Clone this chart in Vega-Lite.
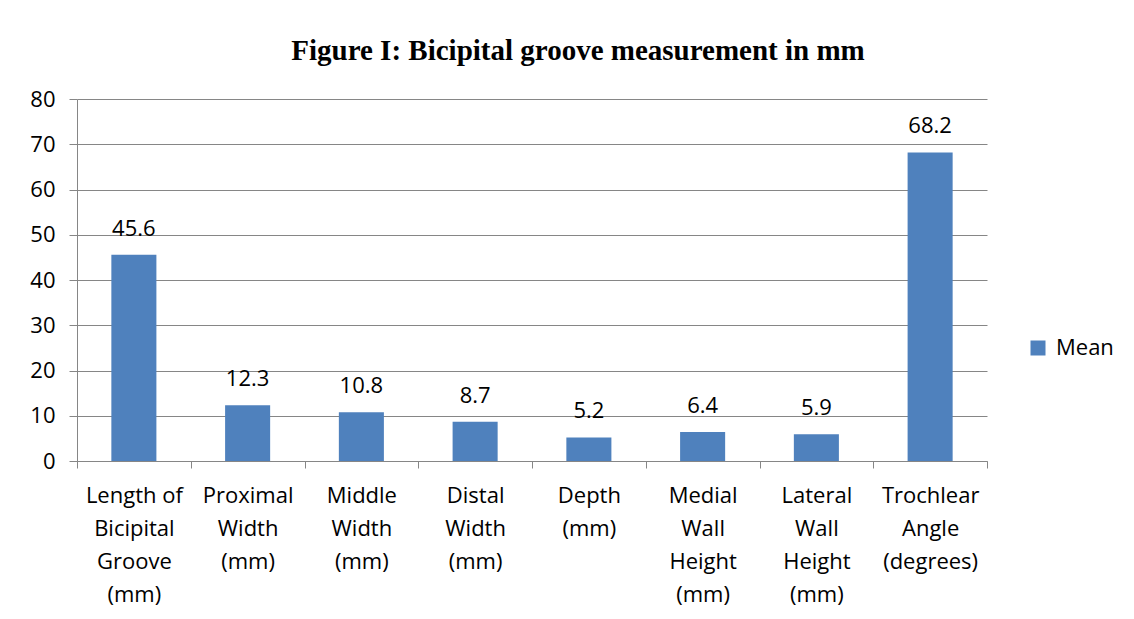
{
  "$schema": "https://vega.github.io/schema/vega-lite/v6.json",
  "autosize": "none",
  "width": 910,
  "height": 362,
  "padding": {"left": 77, "top": 99, "right": 147, "bottom": 158},
  "background": "white",
  "title": {
    "text": "Figure I: Bicipital groove measurement in mm",
    "font": "Liberation Serif",
    "fontSize": 29,
    "fontWeight": "bold",
    "color": "#000000",
    "anchor": "middle",
    "frame": "group",
    "dx": 46,
    "offset": 22
  },
  "data": {
    "values": [
      {"measure": "Length of Bicipital Groove (mm)", "mean": 45.6},
      {"measure": "Proximal Width (mm)", "mean": 12.3},
      {"measure": "Middle Width (mm)", "mean": 10.8},
      {"measure": "Distal Width (mm)", "mean": 8.7},
      {"measure": "Depth (mm)", "mean": 5.2},
      {"measure": "Medial Wall Height (mm)", "mean": 6.4},
      {"measure": "Lateral Wall Height (mm)", "mean": 5.9},
      {"measure": "Trochlear Angle (degrees)", "mean": 68.2}
    ]
  },
  "encoding": {
    "x": {
      "field": "measure",
      "type": "nominal",
      "sort": null,
      "scale": {"paddingInner": 0, "paddingOuter": 0},
      "axis": {
        "title": null,
        "labelAngle": 0,
        "labelFont": "Open Sans",
        "labelFontSize": 22,
        "labelColor": "#000000",
        "labelLineHeight": 33,
        "labelPadding": 17,
        "labelBaseline": "top",
        "labelExpr": "!isValid(datum.value) ? '' : datum.value == 'Length of Bicipital Groove (mm)' ? ['Length of', 'Bicipital', 'Groove', '(mm)'] : split(datum.value, ' ')",
        "tickBand": "extent",
        "tickSize": 7,
        "tickColor": "#868686",
        "domainColor": "#868686",
        "grid": false
      }
    },
    "y": {
      "field": "mean",
      "type": "quantitative",
      "scale": {"domain": [0, 80], "nice": false},
      "axis": {
        "title": null,
        "values": [0, 10, 20, 30, 40, 50, 60, 70, 80],
        "labelFont": "Open Sans",
        "labelFontSize": 22,
        "labelColor": "#000000",
        "labelPadding": 14,
        "tickSize": 8,
        "tickColor": "#868686",
        "domainColor": "#868686",
        "gridColor": "#868686",
        "grid": true
      }
    }
  },
  "layer": [
    {
      "mark": {"type": "bar", "width": {"band": 0.396}},
      "encoding": {
        "color": {
          "datum": "Mean",
          "type": "nominal",
          "scale": {"range": ["#4F81BD"]},
          "legend": {
            "title": null,
            "orient": "none",
            "legendX": 950,
            "legendY": 238,
            "symbolType": "square",
            "symbolSize": 225,
            "symbolStrokeWidth": 0,
            "labelFont": "Open Sans",
            "labelFontSize": 22,
            "labelColor": "#000000",
            "labelOffset": 7
          }
        }
      }
    },
    {
      "mark": {"type": "text", "font": "Open Sans", "fontSize": 22, "color": "#000000", "baseline": "alphabetic", "dy": -19},
      "encoding": {"text": {"field": "mean", "type": "quantitative", "format": ".1f"}}
    }
  ],
  "config": {"view": {"stroke": null}}
}
